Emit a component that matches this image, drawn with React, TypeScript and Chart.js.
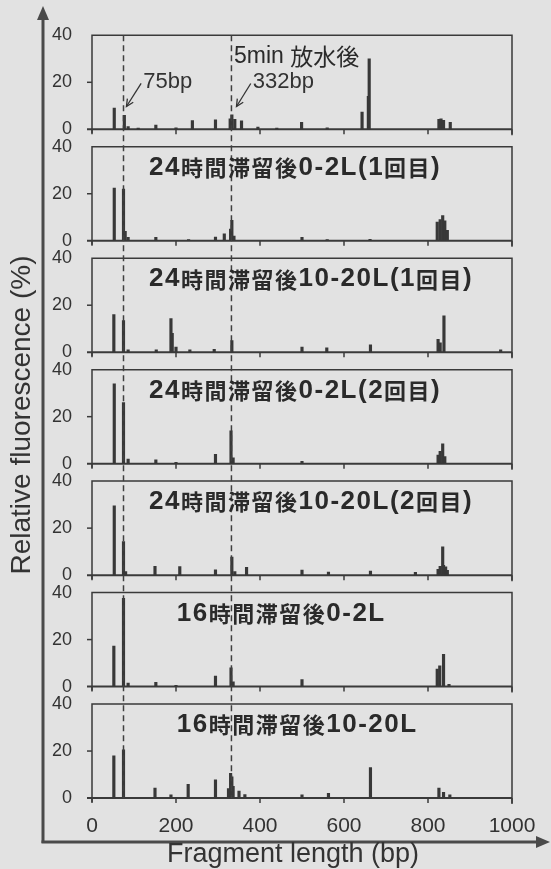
import React, { useEffect, useRef } from 'react';
import { Chart, registerables } from 'chart.js';

Chart.register(...registerables);

// ---------- data ----------
const PANEL_TITLES = [
  '5min 放水後',
  '24時間滞留後0-2L(1回目)',
  '24時間滞留後10-20L(1回目)',
  '24時間滞留後0-2L(2回目)',
  '24時間滞留後10-20L(2回目)',
  '16時間滞留後0-2L',
  '16時間滞留後10-20L',
];
const X_TICKS = [0, 200, 400, 600, 800, 1000];
const Y_TICKS = [0, 20, 40];
const Y_TITLE = 'Relative fluorescence (%)';
const X_TITLE = 'Fragment length (bp)';
const MARKER_BP = [75, 332];
const MARKER_LABELS = ['75bp', '332bp'];

const P1_BP = [53, 77, 86, 110, 152, 200, 239, 294, 329, 333, 340, 356, 395, 440, 499, 560, 643, 658, 660, 826, 831, 837, 853];
const P1_RF = [9, 6, 1.2, 0.5, 1.8, 0.6, 3.7, 4, 4.5, 6.2, 4.2, 3.6, 1, 0.5, 3, 0.6, 7.3, 14, 30, 4.2, 4.5, 3.8, 3];

const P2_BP = [53, 75, 79, 86, 152, 230, 294, 315, 330, 333, 338, 500, 560, 662, 822, 829, 835, 840, 846];
const P2_RF = [22.4, 22, 4, 1.5, 1.5, 0.5, 1.6, 3, 5, 8.7, 2, 1.5, 0.5, 0.6, 8, 9, 10.7, 8.5, 4.4];

const P3_BP = [52, 75, 86, 153, 188, 191, 200, 233, 291, 333, 500, 559, 663, 824, 829, 838, 973];
const P3_RF = [16, 13.5, 1, 1, 14.3, 8, 2.2, 1, 1.2, 5, 2.2, 1.9, 3.2, 5.5, 4, 15.5, 1];

const P4_BP = [53, 75, 86, 152, 200, 294, 331, 336, 500, 824, 829, 835, 840];
const P4_RF = [34, 26, 2, 1.6, 0.6, 4, 14, 2.5, 1, 3.7, 5.3, 8.5, 3];

const P5_BP = [53, 75, 80, 150, 209, 294, 333, 340, 368, 500, 563, 663, 770, 824, 829, 835, 837, 842, 846];
const P5_RF = [29.5, 14.3, 1.5, 3.8, 3.6, 2.3, 7.7, 1.5, 3.3, 2.2, 1.3, 1.7, 1.2, 2.5, 3.8, 12, 4.2, 3.5, 2];

const P6_BP = [52, 75, 86, 152, 200, 294, 331, 336, 500, 822, 828, 837, 850];
const P6_RF = [17.2, 37.5, 1.5, 1.8, 0.5, 4.5, 8, 2, 3, 7.5, 8.8, 13.7, 1];

const P7_BP = [52, 75, 150, 188, 229, 294, 325, 330, 333, 336, 350, 364, 500, 563, 663, 826, 837, 852];
const P7_RF = [18, 20.5, 4.2, 1.4, 5.8, 7.8, 4, 10.5, 9, 5, 3, 1.5, 1.4, 2, 13, 4.3, 2.4, 1.4];

const PANEL_BP = [P1_BP, P2_BP, P3_BP, P4_BP, P5_BP, P6_BP, P7_BP];
const PANEL_RF = [P1_RF, P2_RF, P3_RF, P4_RF, P5_RF, P6_RF, P7_RF];

// ---------- layout / style ----------
const W = 551;
const H = 869;
const Y_MIN = -5.5;
const Y_MAX = 41.9;
const FONT = "'Liberation Sans', Arial, sans-serif";
const CJK = "'Noto Sans CJK JP', sans-serif";
const INK = '#333333';
const BG = '#e2e2e2';
const TITLE_ANCHOR_BP = [338, 136, 136, 136, 136, 202, 202];

function isCJK(ch: string) {
  return ch.charCodeAt(0) > 0x2e80;
}

function drawMixed(ctx: CanvasRenderingContext2D, text: string, x: number, y: number, bold: boolean, latinSize: number, cjkSize: number, spacing: number) {
  let cx = x;
  ctx.textAlign = 'left';
  ctx.textBaseline = 'middle';
  const w = bold ? 'bold ' : '';
  for (const ch of text) {
    ctx.font = isCJK(ch) ? `${w}${cjkSize}px ${CJK}` : `${w}${latinSize}px ${FONT}`;
    ctx.fillText(ch, cx, y);
    cx += ctx.measureText(ch).width + spacing;
  }
}

function arrowLine(ctx: CanvasRenderingContext2D, x1: number, y1: number, x2: number, y2: number) {
  ctx.beginPath();
  ctx.moveTo(x1, y1);
  ctx.lineTo(x2, y2);
  ctx.stroke();
  const a = Math.atan2(y2 - y1, x2 - x1);
  const L = 8;
  ctx.beginPath();
  ctx.moveTo(x2 - L * Math.cos(a - 0.45), y2 - L * Math.sin(a - 0.45));
  ctx.lineTo(x2, y2);
  ctx.lineTo(x2 - L * Math.cos(a + 0.45), y2 - L * Math.sin(a + 0.45));
  ctx.stroke();
}

const panelPlugin = {
  id: 'panelDecor',
  beforeDraw(chart: any) {
    const ctx = chart.ctx as CanvasRenderingContext2D;
    ctx.save();
    ctx.fillStyle = BG;
    ctx.fillRect(0, 0, chart.width, chart.height);
    ctx.restore();
  },
  beforeDatasetsDraw(chart: any) {
    const ctx = chart.ctx as CanvasRenderingContext2D;
    const xs = chart.scales.x;
    const L = xs.getPixelForValue(0);
    const R = xs.getPixelForValue(1000);
    ctx.save();
    ctx.strokeStyle = '#3a3a3a';
    PANEL_TITLES.forEach((_, i) => {
      const ys = chart.scales['y' + i];
      const top = ys.getPixelForValue(40);
      const base = ys.getPixelForValue(0);
      ctx.lineWidth = 1.5;
      ctx.beginPath();
      ctx.moveTo(L, base + 4);
      ctx.lineTo(L, top);
      ctx.lineTo(R, top);
      ctx.lineTo(R, base + 6);
      ctx.stroke();
      const y20 = ys.getPixelForValue(20);
      ctx.beginPath();
      ctx.moveTo(L - 5, y20);
      ctx.lineTo(L, y20);
      ctx.stroke();
      X_TICKS.forEach((v) => {
        const px = xs.getPixelForValue(v);
        ctx.beginPath();
        ctx.moveTo(px, base);
        ctx.lineTo(px, base + 5);
        ctx.stroke();
      });
      ctx.lineWidth = 2;
      ctx.beginPath();
      ctx.moveTo(L - 5, base);
      ctx.lineTo(R, base);
      ctx.stroke();
    });
    ctx.restore();
  },
  afterDatasetsDraw(chart: any) {
    const ctx = chart.ctx as CanvasRenderingContext2D;
    const xs = chart.scales.x;
    const y0 = chart.scales.y0;
    const yLast = chart.scales['y' + (PANEL_TITLES.length - 1)];
    ctx.save();
    ctx.strokeStyle = '#404040';
    ctx.lineWidth = 1.5;
    ctx.setLineDash([6, 4]);
    MARKER_BP.forEach((bp) => {
      const px = xs.getPixelForValue(bp);
      ctx.beginPath();
      ctx.moveTo(px, y0.getPixelForValue(40));
      ctx.lineTo(px, yLast.getPixelForValue(0));
      ctx.stroke();
    });
    ctx.setLineDash([]);

    ctx.fillStyle = INK;
    ctx.font = `22px ${FONT}`;
    ctx.textAlign = 'left';
    ctx.textBaseline = 'middle';
    const textBp = [122, 383];
    const startBp = [117, 378];
    const tipBp = [82, 344];
    ctx.lineWidth = 1.3;
    ctx.strokeStyle = INK;
    MARKER_LABELS.forEach((lab, k) => {
      ctx.fillText(lab, xs.getPixelForValue(textBp[k]), y0.getPixelForValue(20));
      arrowLine(ctx, xs.getPixelForValue(startBp[k]), y0.getPixelForValue(19.5), xs.getPixelForValue(tipBp[k]), y0.getPixelForValue(9.7));
    });

    ctx.fillStyle = '#2a2a2a';
    PANEL_TITLES.forEach((t, i) => {
      const ys = chart.scales['y' + i];
      const y = ys.getPixelForValue(40) + 21;
      const x = xs.getPixelForValue(TITLE_ANCHOR_BP[i]);
      if (i === 0) drawMixed(ctx, t, x, y, false, 23, 23, 0);
      else drawMixed(ctx, t, x, y, true, 26, 22, 1.5);
    });

    ctx.strokeStyle = '#4a4a4a';
    ctx.fillStyle = '#4a4a4a';
    ctx.lineWidth = 3;
    const ax = 43;
    const ay = 842;
    ctx.beginPath();
    ctx.moveTo(ax, ay + 1);
    ctx.lineTo(ax, 16);
    ctx.stroke();
    ctx.beginPath();
    ctx.moveTo(ax, 6);
    ctx.lineTo(ax - 6, 20);
    ctx.lineTo(ax + 6, 20);
    ctx.closePath();
    ctx.fill();
    ctx.beginPath();
    ctx.moveTo(ax - 1.5, ay);
    ctx.lineTo(538, ay);
    ctx.stroke();
    ctx.beginPath();
    ctx.moveTo(550, ay);
    ctx.lineTo(536, ay - 6);
    ctx.lineTo(536, ay + 6);
    ctx.closePath();
    ctx.fill();

    ctx.fillStyle = INK;
    ctx.textAlign = 'center';
    ctx.textBaseline = 'middle';
    ctx.font = `27px ${FONT}`;
    ctx.fillText(X_TITLE, 293, 855);
    ctx.save();
    ctx.translate(22, 415);
    ctx.rotate(-Math.PI / 2);
    ctx.font = `28px ${FONT}`;
    ctx.fillText(Y_TITLE, 0, 0);
    ctx.restore();
    ctx.restore();
  },
};

export default function App() {
  const ref = useRef<HTMLCanvasElement>(null);
  useEffect(() => {
    const scales: any = {
      x: {
        type: 'linear',
        position: 'bottom',
        min: 0,
        max: 1000,
        offset: false,
        afterBuildTicks: (s: any) => {
          s.ticks = X_TICKS.map((v) => ({ value: v }));
        },
        afterFit: (s: any) => {
          s.height = 28;
        },
        grid: { display: false, drawTicks: false },
        border: { display: false },
        ticks: {
          padding: 3,
          color: INK,
          font: { size: 21, family: FONT },
          maxRotation: 0,
          autoSkip: false,
          callback: (v: any) => String(v),
        },
      },
    };
    // stacked axes are laid out bottom-first, so define the last panel first
    for (let i = PANEL_TITLES.length - 1; i >= 0; i--) {
      scales['y' + i] = {
        type: 'linear',
        position: 'left',
        stack: 'panels',
        stackWeight: 1,
        min: Y_MIN,
        max: Y_MAX,
        afterBuildTicks: (s: any) => {
          s.ticks = Y_TICKS.map((v) => ({ value: v }));
        },
        afterFit: (s: any) => {
          s.width = 42;
        },
        grid: { display: false, drawTicks: false },
        border: { display: false },
        ticks: { padding: 20, color: INK, font: { size: 18, family: FONT }, autoSkip: false },
      };
    }
    const chart = new Chart(ref.current as HTMLCanvasElement, {
      type: 'bar',
      data: {
        datasets: PANEL_TITLES.map((t, i) => ({
          label: t,
          data: PANEL_BP[i].map((x, j) => ({ x, y: PANEL_RF[i][j] })),
          xAxisID: 'x',
          yAxisID: 'y' + i,
          backgroundColor: '#383838',
          borderWidth: 0,
          barThickness: 2.5,
          grouped: false,
        })) as any,
      },
      options: {
        animation: false,
        responsive: false,
        devicePixelRatio: 1,
        events: [],
        layout: { padding: { left: 50, right: 39, top: 23.5, bottom: 30 } },
        plugins: { legend: { display: false }, tooltip: { enabled: false } },
        scales,
      } as any,
      plugins: [panelPlugin],
    });
    return () => chart.destroy();
  }, []);
  return (
    <div style={{ position: 'absolute', left: 0, top: 0, width: W, height: H }}>
      <canvas ref={ref} width={W} height={H} style={{ display: 'block', width: W, height: H }} />
    </div>
  );
}
